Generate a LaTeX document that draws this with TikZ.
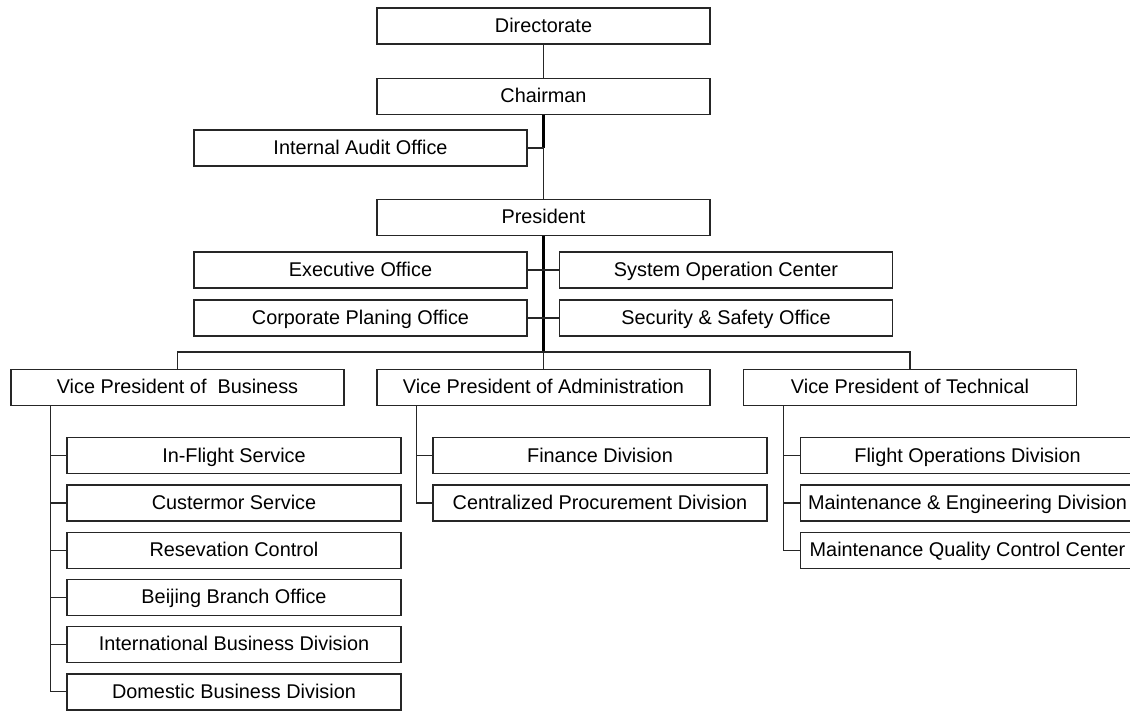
\documentclass[tikz,border=0pt]{standalone}
\usepackage{fontspec}
\setmainfont{Liberation Sans}
\usetikzlibrary{positioning}
\tikzset{
  unitbox/.style={draw=black!85, line width=0.7pt, minimum width=6.66cm,
    minimum height=0.72cm, inner sep=0pt, text height=0.72em, text depth=0pt,
    font=\fontsize{11.3}{13}\selectfont},
  subbox/.style={unitbox, minimum width=6.68cm},
  link/.style={draw=black!85, line width=0.6pt},
  trunk/.style={draw=black, line width=1.15pt}
}
\begin{document}
\begin{tikzpicture}[node distance=0.2cm]
    \useasboundingbox (0,0) rectangle (22.6,-14.22);
    \clip (0,0) rectangle (22.6,-14.22);
    \node[unitbox] (dir) at (10.87,-0.52) {Directorate};
    \node[unitbox, below=0.66cm of dir] (chair) {Chairman};
    \node[unitbox] (audit) at (7.21,-2.96) {Internal Audit Office};
    \node[unitbox, below=1.68cm of chair] (pres) {President};
    \node[unitbox] (exec) at (7.21,-5.40) {Executive Office};
    \node[unitbox] (sysop) at (14.52,-5.40) {System Operation Center};
    \node[unitbox] (plan) at (7.21,-6.36) {Corporate Planing Office};
    \node[unitbox] (safety) at (14.52,-6.36) {Security \& Safety Office};
    \coordinate (bus) at (10.87,-7.04);
    \node[unitbox] (vpbiz) at (3.55,-7.75) {Vice President of \ Business};
    \node[unitbox] (vpadm) at (10.87,-7.75) {Vice President of Administration};
    \node[unitbox] (vptech) at (18.2,-7.75) {Vice President of Technical};
    % business line
    \node[subbox, below=0.62cm of vpbiz, xshift=1.13cm] (inflight) {In-Flight Service};
    \node[subbox, below=of inflight] (cust) {Custermor Service};
    \node[subbox, below=of cust] (resv) {Resevation Control};
    \node[subbox, below=of resv] (beijing) {Beijing Branch Office};
    \node[subbox, below=of beijing] (intl) {International Business Division};
    \node[subbox, below=of intl] (dom) {Domestic Business Division};
    % administration line
    \node[subbox, below=0.62cm of vpadm, xshift=1.13cm] (fin) {Finance Division};
    \node[subbox, below=of fin] (proc) {Centralized Procurement Division};
    % technical line
    \node[subbox, below=0.62cm of vptech, xshift=1.15cm] (flops) {Flight Operations Division};
    \node[subbox, below=of flops] (maint) {Maintenance \& Engineering Division};
    \node[subbox, below=of maint] (mqcc) {Maintenance Quality Control Center};

    \draw[link] (dir) -- (chair);
    \draw[trunk] (chair.south) -- (chair.south |- audit.east);
    \draw[link] (audit.east) -- (audit.east -| chair.south) -- (pres.north);
    \draw[trunk] (pres.south) -- (bus);
    \draw[link] (exec.east) -- (sysop.west);
    \draw[link] (plan.east) -- (safety.west);
    \draw[link] (vpbiz.north) |- (bus) -| (vptech.north);
    \draw[link] (bus) -- (vpadm.north);

    \coordinate (tbiz) at ([xshift=0.8cm]vpbiz.south west);
    \draw[link] (tbiz) |- (dom.west);
    \draw[link] (inflight.west) -- (inflight.west -| tbiz);
    \draw[link] (cust.west) -- (cust.west -| tbiz);
    \draw[link] (resv.west) -- (resv.west -| tbiz);
    \draw[link] (beijing.west) -- (beijing.west -| tbiz);
    \draw[link] (intl.west) -- (intl.west -| tbiz);

    \coordinate (tadm) at ([xshift=0.8cm]vpadm.south west);
    \draw[link] (tadm) |- (proc.west);
    \draw[link] (fin.west) -- (fin.west -| tadm);

    \coordinate (ttech) at ([xshift=0.82cm]vptech.south west);
    \draw[link] (ttech) |- (mqcc.west);
    \draw[link] (flops.west) -- (flops.west -| ttech);
    \draw[link] (maint.west) -- (maint.west -| ttech);
  \end{tikzpicture}
\end{document}
